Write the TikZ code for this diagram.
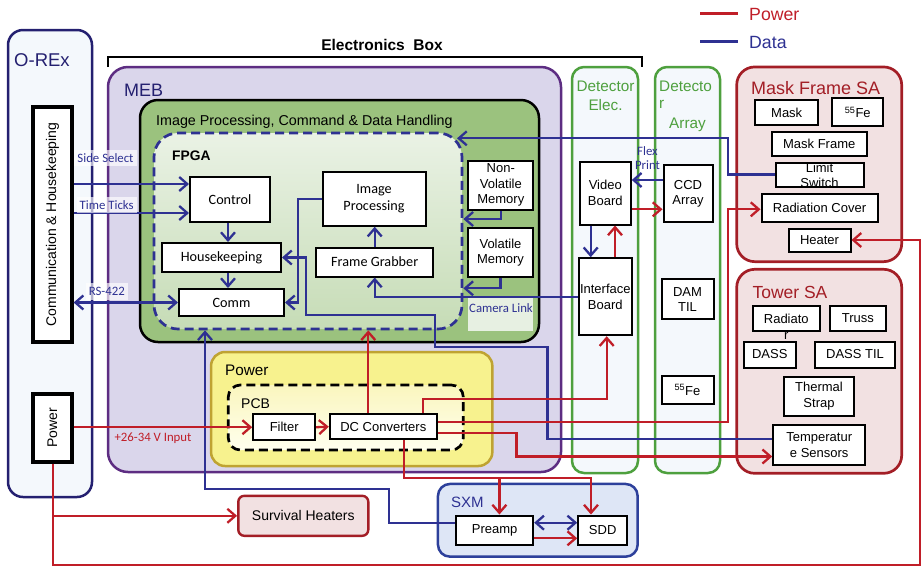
\documentclass[tikz,border=0pt]{standalone}
\usepackage{fontspec}
\usepackage{graphicx}
\setmainfont{Liberation Sans}
\newfontfamily\calibri{Carlito}
\usetikzlibrary{arrows.meta}

\definecolor{datablue}{RGB}{46,49,146}
\definecolor{powred}{RGB}{192,30,40}
\definecolor{orexline}{RGB}{36,32,112}
\definecolor{mebline}{RGB}{93,45,130}
\definecolor{mebfill}{RGB}{218,214,235}
\definecolor{ipgreen}{RGB}{155,194,126}
\definecolor{detgreen}{RGB}{78,160,62}
\definecolor{detfill}{RGB}{244,248,252}
\definecolor{sared}{RGB}{163,30,38}
\definecolor{safill}{RGB}{242,225,226}
\definecolor{pwryellow}{RGB}{247,242,142}
\definecolor{pwrline}{RGB}{191,163,50}
\definecolor{sxmline}{RGB}{45,64,155}
\definecolor{sxmfill}{RGB}{222,230,246}
\definecolor{camfill}{RGB}{231,240,226}

\tikzset{
  >={Straight Barb[length=8pt,width=14pt]},
  sz/.style 2 args={minimum width=#1pt, minimum height=#2pt},
  cont/.style={draw, line width=2.5pt, inner sep=0pt},
  blk/.style={draw, line width=2pt, fill=white, inner sep=0pt, align=center,
    font=\fontsize{13}{15.5}\selectfont},
  cblk/.style={blk, font=\calibri\fontsize{14.2}{16.6}\selectfont},
  data/.style={datablue, line width=2.3pt},
  pow/.style={powred, line width=2.3pt},
  lbl/.style={font=\calibri\fontsize{12.8}{14.5}\selectfont, inner sep=1pt, align=center},
  lblbg/.style={lbl, fill=white, fill opacity=0.65, text opacity=1, inner xsep=3pt, inner ysep=4pt},
  ttl/.style={anchor=base west, inner sep=0pt}
}

\begin{document}
\begin{tikzpicture}[x=1pt,y=-1pt]
\useasboundingbox (0,0) rectangle (923,566);

% legend
\coordinate (lgp1) at (700,13.5);
\coordinate (lgp2) at (738,13.5);
\coordinate (lgd1) at (700,41.5);
\coordinate (lgd2) at (738,41.5);
\draw[pow] (lgp1) -- (lgp2);
\draw[data] (lgd1) -- (lgd2);
\node[ttl, text=powred, font=\fontsize{17.7}{20}\selectfont] (lgpow) at (749,20) {Power};
\node[ttl, text=datablue, font=\fontsize{17.7}{20}\selectfont] (lgdat) at (749,48.3) {Data};

% O-REx
\node[cont, draw=orexline, fill=detfill, rounded corners=15pt, sz={84}{467}] (orex) at (50,263.5) {};
\node[ttl, text=orexline, font=\fontsize{18.5}{21}\selectfont] (orext) at (14,66.6) {O-REx};
\node[blk, line width=3.2pt, sz={39}{235}] (comhk) at (52.5,224.5)
  {\rotatebox{90}{\fontsize{14}{16}\selectfont Communication \& Housekeeping}};
\node[blk, line width=3.2pt, sz={39}{68}] (opwr) at (52.5,428)
  {\rotatebox{90}{\fontsize{14}{16}\selectfont Power}};

% MEB
\node[cont, draw=mebline, fill=mebfill, rounded corners=20pt, sz={453}{405}] (meb) at (334.5,269.5) {};
\node[ttl, text=orexline, font=\fontsize{18}{21}\selectfont] (mebt) at (124,96.5) {MEB};

% electronics box
\coordinate (eb1) at (108,67);
\coordinate (eb2) at (108,57);
\coordinate (eb3) at (642,57);
\coordinate (eb4) at (642,67);
\draw[line width=2.2pt] (eb1) -- (eb2) -- (eb3) -- (eb4);
\node[anchor=base, inner sep=0pt, font=\bfseries\fontsize{15.5}{18}\selectfont] (ebt) at (382,50.3) {Electronics\ \ Box};

% image processing, C&DH
\node[cont, fill=ipgreen, rounded corners=18pt, sz={399}{242}] (iphd) at (339.5,221) {};
\node[ttl, font=\fontsize{14.3}{17}\selectfont] (iphdt) at (156,125.6) {Image Processing, Command \& Data Handling};
\node[cont, draw=datablue, line width=2.7pt, dash pattern=on 9pt off 5pt, rounded corners=24pt,
  top color={rgb,255:red,234;green,242;blue,229}, bottom color={rgb,255:red,198;green,220;blue,182},
  sz={308}{196}] (fpga) at (308,231) {};
\node[ttl, font=\bfseries\fontsize{13.8}{16}\selectfont] (fpgat) at (172,160.4) {FPGA};

\node[cblk, sz={80}{45}] (ctrl) at (230,199.5) {Control};
\node[cblk, sz={119}{29}] (hk) at (221.5,257.5) {Housekeeping};
\node[cblk, sz={105}{27}] (comm) at (231.5,302.5) {Comm};
\node[cblk, sz={103}{54}] (imgp) at (374,198.7) {Image\\Processing};
\node[cblk, sz={117}{29}] (frgr) at (374.7,262) {Frame Grabber};
\node[blk, sz={65}{49}] (nvm) at (500.8,185.3) {Non-\\Volatile\\Memory};
\node[blk, sz={65}{49}] (vm) at (500.5,252.8) {Volatile\\Memory};
\fill[camfill] (468,298) rectangle (533,331);
\node[lbl, text=datablue] (camlk) at (501,308.5) {Camera Link};

% detector electronics and array
\node[cont, draw=detgreen, fill=detfill, rounded corners=12pt, sz={66}{406}] (deel) at (605,270) {};
\node[anchor=base, inner sep=0pt, text=detgreen, font=\fontsize{15.3}{18}\selectfont] (deelt1) at (605.5,91.7) {Detector};
\node[anchor=base, inner sep=0pt, text=detgreen, font=\fontsize{15.3}{18}\selectfont] (deelt2) at (605.5,110) {Elec.};
\node[cont, draw=detgreen, fill=detfill, rounded corners=12pt, sz={65}{406}] (dear) at (687.5,270) {};
\node[ttl, text=detgreen, font=\fontsize{15.3}{18}\selectfont] (deart1) at (659,91.5) {Detecto};
\node[ttl, text=detgreen, font=\fontsize{15.3}{18}\selectfont] (deart2) at (659,108.5) {r};
\node[anchor=base, inner sep=0pt, text=detgreen, font=\fontsize{15.3}{18}\selectfont] (deart3) at (687.5,128.3) {Array};

\node[blk, sz={51}{63}] (vb) at (605.3,193) {Video\\Board};
\node[blk, sz={53}{77}] (ifb) at (605.3,296.7) {Interface\\Board};
\node[blk, sz={49}{57}] (ccd) at (688,193.7) {CCD\\Array};
\node[blk, sz={52}{40}] (damtil) at (687.5,299.3) {DAM\\TIL};
\node[blk, sz={52}{28}] (fedet) at (687.5,390) {\textsuperscript{55}Fe};

% mask frame SA
\node[cont, draw=sared, fill=safill, line width=2.7pt, rounded corners=18pt, sz={165}{194.7}] (mfsa) at (819.2,164.3) {};
\node[ttl, text=sared, font=\fontsize{18}{21}\selectfont] (mfsat) at (751,94.4) {Mask Frame SA};
\node[blk, sz={63}{25}] (mask) at (786.7,112.5) {Mask};
\node[blk, sz={51}{28}] (femask) at (857.8,112.2) {\textsuperscript{55}Fe};
\node[blk, sz={95}{24}] (maskfr) at (819.2,143.7) {Mask Frame};
\node[blk, sz={88}{24}] (limsw) at (819.5,174.5) {};
\node[inner sep=0pt, align=center, font=\fontsize{13}{15}\selectfont] (limswt) at (819.5,175.5) {Limit\\Switch};
\node[blk, sz={116}{28}] (radcov) at (819.5,207.8) {Radiation Cover};
\node[blk, sz={62}{23}] (heater) at (819.5,240) {Heater};

% tower SA
\node[cont, draw=sared, fill=safill, line width=2.7pt, rounded corners=18pt, sz={165}{204}] (twsa) at (819.2,371.3) {};
\node[ttl, text=sared, font=\fontsize{17.5}{21}\selectfont] (twsat) at (752.3,298.3) {Tower SA};
\node[blk, sz={67}{25}] (radtr) at (786.3,318.5) {};
\node[inner sep=0pt, align=center, font=\fontsize{13}{15.5}\selectfont] (radtrt) at (786.3,327) {Radiato\\r};
\node[blk, sz={56}{25}] (truss) at (857.8,318.5) {Truss};
\node[blk, sz={52}{26}] (dass) at (769.8,354.5) {DASS};
\node[blk, sz={80}{26}] (dasstil) at (855,354.5) {DASS TIL};
\node[blk, sz={70}{39}] (thstrap) at (819,396.2) {Thermal\\Strap};
\node[blk, sz={92}{40}] (tsens) at (819.2,445) {Temperatur\\e Sensors};

% power
\node[cont, draw=pwrline, fill=pwryellow, rounded corners=14pt, sz={281.3}{114}] (pwr) at (351.7,409) {};
\node[ttl, font=\fontsize{15.3}{18}\selectfont] (pwrt) at (225,375.8) {Power};
\node[cont, line width=2.7pt, dash pattern=on 9pt off 5pt, rounded corners=12pt,
  top color={rgb,255:red,250;green,246;blue,190}, bottom color={rgb,255:red,255;green,255;blue,238},
  sz={235}{65}] (pcb) at (345.8,417.5) {};
\node[ttl, font=\fontsize{14}{17}\selectfont] (pcbt) at (241,408) {PCB};
\node[blk, sz={62}{26}] (filter) at (284.2,427.2) {Filter};
\node[blk, sz={107}{25}] (dcconv) at (383.3,426.7) {DC Converters};

% SXM
\node[cont, draw=sxmline, fill=sxmfill, rounded corners=12pt, sz={199.7}{72.7}] (sxm) at (537.8,520.3) {};
\node[ttl, text=datablue, font=\fontsize{15}{18}\selectfont] (sxmt) at (451,507.9) {SXM};
\node[blk, sz={77}{29}] (preamp) at (494.7,530) {Preamp};
\node[blk, sz={49}{29}] (sdd) at (602.7,530) {SDD};

\node[blk, draw=sared, fill=safill, line width=2.4pt, rounded corners=6pt, sz={130}{40},
  font=\fontsize{14}{16}\selectfont] (survh) at (303.3,515.8) {Survival Heaters};

% data
\coordinate (fpgatr) at (457,138.3);
\draw[data,->] (comhk.east |- 0,184) -- (ctrl.west |- 0,184);
\draw[data,->] (comhk.east |- 0,213) -- (ctrl.west |- 0,213);
\draw[data,<->] (comhk.east |- comm.west) -- (comm.west);
\draw[data,->] (228,0 |- ctrl.south) -- (228,0 |- hk.north);
\draw[data,->] (228,0 |- hk.south) -- (228,0 |- comm.north);
\draw[data,->] (imgp.west) -| (298,302.5) -- (comm.east);
\draw[data,->] (tsens.west |- 0,439.3) -| (547.5,346.7) -| (435,315) -| (305.7,257.5) -- (hk.east);
\draw[data,->] (ifb.west |- 0,297.3) -| (frgr.south);
\draw[data,->] (frgr.north) -- (frgr.north |- imgp.south);
\draw[data,->] (nvm.south) |- (fpga.east |- 0,219);
\draw[data,->] (vm.south) |- (fpga.east |- 0,288.3);
\draw[data,->] (limsw.west) -| (728.3,138.3) -- (fpgatr);
\draw[data,->] (ccd.west |- 0,180) -- (vb.east |- 0,180);
\draw[data,->] (590.7,0 |- vb.south) -- (590.7,0 |- ifb.north);
\draw[data,->] (preamp.west |- 0,523.3) -| (389,489.3) -| (205,0 |- fpga.south);
\draw[data,<->] (preamp.east |- 0,522.7) -- (sdd.west |- 0,522.7);

% power
\draw[pow,->] (opwr.east |- filter.west) -- (filter.west);
\draw[pow,->] (filter.east) -- (dcconv.west);
\draw[pow,->] (368.3,0 |- dcconv.north) -- (368.3,0 |- fpga.south);
\draw[pow,->] (423.3,0 |- dcconv.north) |- (606.7,399) -- (606.7,0 |- ifb.south);
\draw[pow,->] (615,0 |- ifb.north) -- (615,0 |- vb.south);
\draw[pow,->] (vb.east |- 0,209.3) -- (ccd.west |- 0,209.3);
\draw[pow,->] (dcconv.east |- 0,421.7) -| (727.7,209.3) -- (radcov.west |- 0,209.3);
\draw[pow,->] (dcconv.east |- 0,433.3) -| (516.5,456.5) -- (tsens.west |- 0,456.5);
\draw[pow,->] (404.3,0 |- dcconv.south) |- (591,478.3) -- (591,0 |- sdd.north);
\draw[pow,->] (499.4,478.3) -- (499.4,0 |- preamp.north);
\draw[pow,->] (preamp.east |- 0,538.3) -- (sdd.west |- 0,538.3);
\draw[pow,->] (53.3,0 |- opwr.south) |- (survh.west);
\draw[pow,->] (53.3,0 |- opwr.south) -- (53.3,565) -| (920,240) -- (heater.east);

% labels
\node[lblbg, text=datablue] (sidesel) at (105.5,158) {Side Select};
\node[lblbg, text=datablue] (tticks) at (106.7,205) {Time Ticks};
\node[lblbg, text=datablue] (rs) at (106.8,291.5) {RS-422};
\node[lbl, text=datablue] (flexpr) at (647.5,158) {Flex\\Print};
\node[lbl, text=powred] (vin) at (153,438.3) {+26-34 V Input};
\end{tikzpicture}
\end{document}
